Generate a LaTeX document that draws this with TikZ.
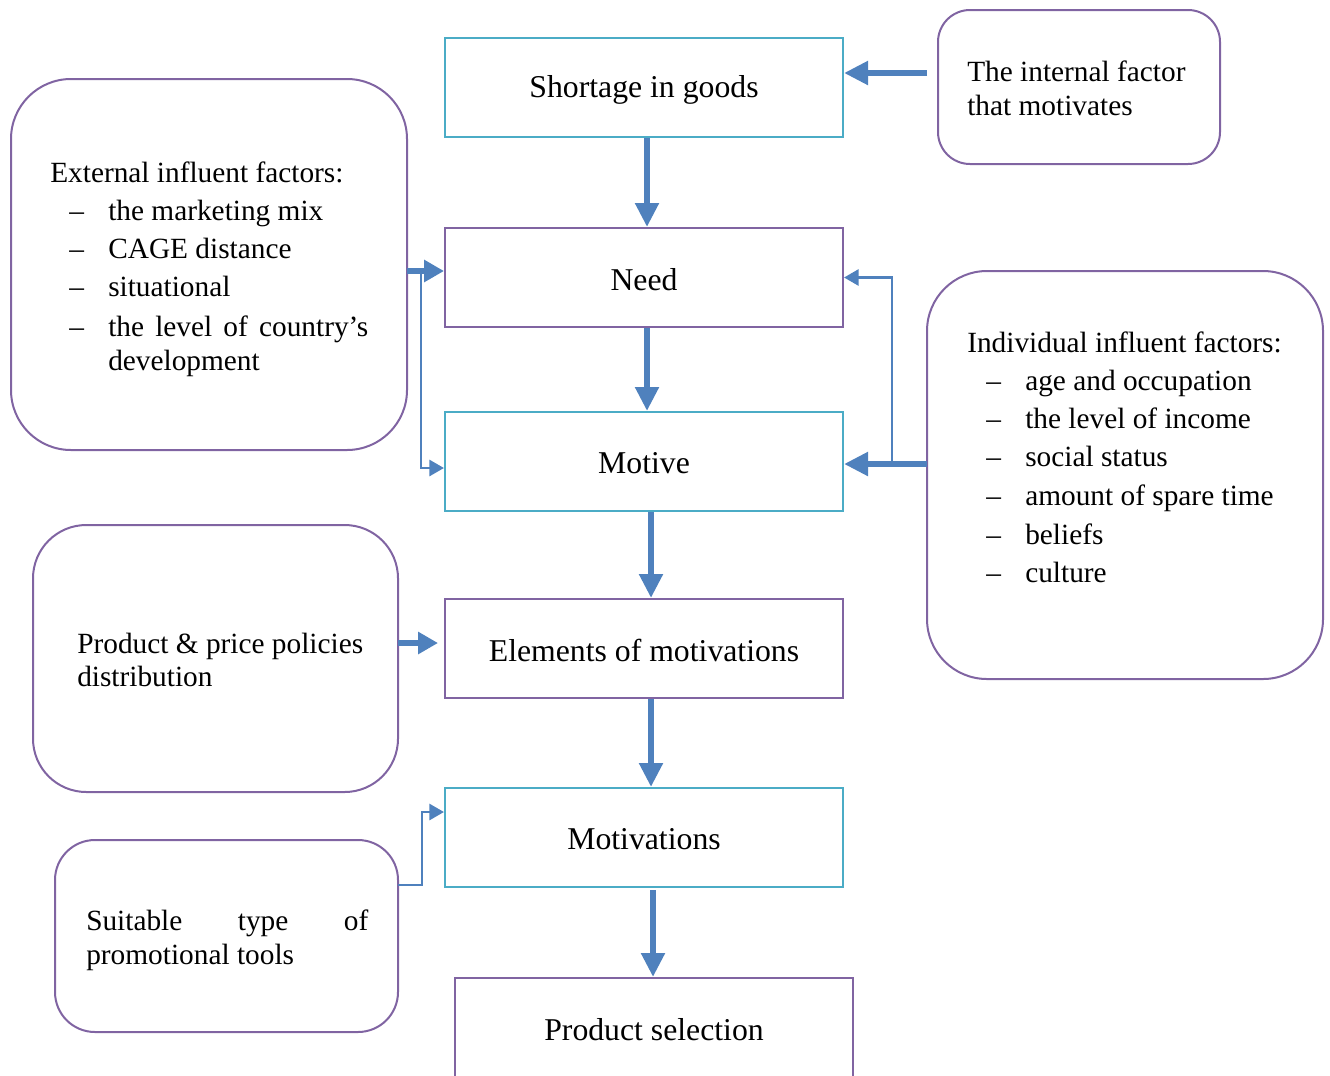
\documentclass[tikz,border=0pt]{standalone}
\usepackage{fontspec}
\setmainfont{Liberation Serif}
\usetikzlibrary{fit,arrows.meta}
\definecolor{purp}{HTML}{8064A2}
\definecolor{cyanb}{HTML}{4BACC6}
\definecolor{blu}{HTML}{4F81BD}
\begin{document}
\begin{tikzpicture}[x=0.75pt,y=-0.75pt,
  pbox/.style={draw=purp,line width=1.5pt,inner sep=0pt},
  cbox/.style={draw=cyanb,line width=1.5pt,inner sep=0pt},
  mtext/.style={anchor=center,inner sep=0pt,font=\fontsize{23.8}{28}\selectfont},
  rbox/.style={draw=purp,line width=1.5pt,inner sep=0pt},
  txt/.style={anchor=base west,inner sep=0pt,font=\fontsize{22}{26}\selectfont},
  bigarrow/.style={draw=blu,line width=5pt,-{Triangle[width=17pt,length=18pt]}},
  smallarrow/.style={draw=blu,line width=4.8pt,-{Triangle[width=16pt,length=15pt]}},
  thinarrow/.style={draw=blu,line width=2.2pt,-{Triangle[width=12pt,length=11pt]}}]
\useasboundingbox (0,0) rectangle (1330,1075);
\clip (0,0) rectangle (1330,1075);

% main boxes
\node[cbox,fit={(445,38)(843,137)}] (short) {};
\node[pbox,fit={(445,228)(843,327)}] (need) {};
\node[cbox,fit={(445,412)(843,511)}] (motive) {};
\node[pbox,fit={(445,599)(843,698)}] (elem) {};
\node[cbox,fit={(445,788)(843,887)}] (motiv) {};
\node[pbox,fit={(455,978)(853,1077)}] (prod) {};
\node[mtext] (shortT) at ([yshift=-1.5pt]short.center) {Shortage in goods};
\node[mtext] (needT) at ([yshift=-1.5pt]need.center) {Need};
\node[mtext] (motiveT) at ([yshift=-1.5pt]motive.center) {Motive};
\node[mtext] (elemT) at ([yshift=-1.5pt]elem.center) {Elements of motivations};
\node[mtext] (motivT) at ([yshift=-1.5pt]motiv.center) {Motivations};
\node[mtext] (prodT) at ([yshift=-1.5pt]prod.center) {Product selection};

% rounded boxes
\node[rbox,rounded corners=24pt,fit={(938,10)(1220,164)}] (int) {};
\node[rbox,rounded corners=45pt,fit={(11,79)(407,450)}] (ext) {};
\node[rbox,rounded corners=45pt,fit={(927,271)(1323,679)}] (ind) {};
\node[rbox,rounded corners=40pt,fit={(33,525)(398,792)}] (pp) {};
\node[rbox,rounded corners=30pt,fit={(55,840)(398,1032)}] (suit) {};

% texts: internal
\node[txt] (t1) at (967,81) {The internal factor};
\node[txt] (t2) at (967,115) {that motivates};

% external
\node[txt] (e0) at (50,182) {External influent factors:};
\node[txt] (ed1) at (69,220) {–};
\node[txt] (ed2) at (69,258) {–};
\node[txt] (ed3) at (69,296) {–};
\node[txt] (ed4) at (69,336) {–};
\node[txt] (e1) at (108,220) {the marketing mix};
\node[txt] (e2) at (108,258) {CAGE distance};
\node[txt] (e3) at (108,296) {situational};
\node[txt] (e4) at (108,336) {\makebox[195pt][s]{the level of country’s}};
\node[txt] (e5) at (108,370) {development};

% individual
\node[txt] (i0) at (967,352) {Individual influent factors:};
\foreach \yy/\tt [count=\k] in {390/age and occupation,428/the level of income,466/social status,505/amount of spare time,544/beliefs,582/culture}{
  \node[txt] (id\k) at (986,\yy) {–};
  \node[txt] (i\k) at (1025,\yy) {\tt};
}

% product & price
\node[txt] (p1) at (77,653) {Product \& price policies};
\node[txt] (p2) at (77,686) {distribution};

% suitable
\node[txt] (s1) at (86,930) {\makebox[211.5pt][s]{Suitable type of}};
\node[txt] (s2) at (86,964) {promotional tools};

% vertical arrows
\draw[bigarrow] ([xshift=2.25pt]short.south) -- ([xshift=2.25pt]need.north);
\draw[bigarrow] ([xshift=2.25pt]need.south) -- ([xshift=2.25pt]motive.north);
\draw[bigarrow] ([xshift=5.25pt]motive.south) -- ([xshift=5.25pt]elem.north);
\draw[bigarrow] ([xshift=5.25pt]elem.south) -- ([xshift=5.25pt]motiv.north);
\coordinate (m1) at (653,890);
\draw[bigarrow] (m1) -- (m1 |- prod.north);

% internal -> shortage
\coordinate (ia) at (927,73);
\draw[bigarrow] (ia) -- (ia -| short.east);

% external -> need / motive
\coordinate (ea) at (407,271);
\draw[smallarrow] (ea) -- (ea -| need.west);
\coordinate (eb) at (421,271);
\coordinate (ec) at (421,468);
\draw[thinarrow] (eb) -- (ec) -- (ec -| motive.west);

% individual -> motive / need
\coordinate (na) at (927,464);
\draw[bigarrow] (na) -- (na -| motive.east);
\coordinate (nb) at (892,464);
\draw[thinarrow] (nb) |- (need.east);

% product & price -> elements
\coordinate (pa) at (398,643);
\coordinate (pb) at (438,643);
\draw[smallarrow] (pa) -- (pb);

% suitable -> motivations
\coordinate (sa) at (398,885);
\coordinate (sb) at (422,812);
\draw[thinarrow] (sa) -| (sb) -- (sb -| motiv.west);
\end{tikzpicture}
\end{document}
